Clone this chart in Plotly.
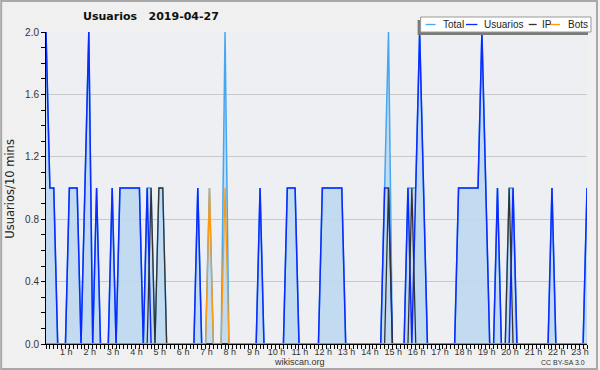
import plotly.graph_objects as go

# 10-minute samples starting at 00:00
usuarios = [
    2, 1, 1, 0, 0, 0, 1, 1, 1, 0, 1, 2,
    0, 1, 0, 0, 0, 1, 0, 1, 1, 1, 1, 1,
    1, 0, 1, 0, 0, 0, 0, 0, 0, 0, 0, 0,
    0, 0, 0, 1, 0, 0, 0, 0, 0, 0, 0, 0,
    0, 0, 0, 0, 0, 0, 0, 1, 0, 0, 0, 0,
    0, 0, 1, 1, 1, 0, 0, 0, 0, 0, 0, 1,
    1, 1, 1, 1, 1, 0, 0, 0, 0, 0, 0, 0,
    0, 0, 0, 1, 1, 0, 0, 0, 0, 1, 0, 1,
    2, 1, 0, 0, 0, 0, 0, 0, 0, 0, 1, 1,
    1, 1, 1, 1, 2, 1, 0, 0, 1, 0, 0, 0,
    1, 0, 0, 0, 0, 0, 0, 0, 0, 0, 1, 0,
    0, 0, 0, 0, 0, 0, 0, 1,
]
ip = [
    0, 0, 0, 0, 0, 0, 0, 0, 0, 0, 0, 0,
    0, 0, 0, 0, 0, 0, 0, 0, 0, 0, 0, 0,
    0, 0, 0, 1, 0, 1, 1, 0, 0, 0, 0, 0,
    0, 0, 0, 0, 0, 0, 0, 0, 0, 0, 0, 0,
    0, 0, 0, 0, 0, 0, 0, 0, 0, 0, 0, 0,
    0, 0, 0, 0, 0, 0, 0, 0, 0, 0, 0, 0,
    0, 0, 0, 0, 0, 0, 0, 0, 0, 0, 0, 0,
    0, 0, 0, 0, 1, 0, 0, 0, 0, 0, 1, 0,
    0, 0, 0, 0, 0, 0, 0, 0, 0, 0, 0, 0,
    0, 0, 0, 0, 0, 0, 0, 0, 0, 0, 0, 1,
    0, 0, 0, 0, 0, 0, 0, 0, 0, 0, 0, 0,
    0, 0, 0, 0, 0, 0, 0, 0,
]
bots = [
    0, 0, 0, 0, 0, 0, 0, 0, 0, 0, 0, 0,
    0, 0, 0, 0, 0, 0, 0, 0, 0, 0, 0, 0,
    0, 0, 0, 0, 0, 0, 0, 0, 0, 0, 0, 0,
    0, 0, 0, 0, 0, 0, 1, 0, 0, 0, 1, 0,
    0, 0, 0, 0, 0, 0, 0, 0, 0, 0, 0, 0,
    0, 0, 0, 0, 0, 0, 0, 0, 0, 0, 0, 0,
    0, 0, 0, 0, 0, 0, 0, 0, 0, 0, 0, 0,
    0, 0, 0, 0, 0, 0, 0, 0, 0, 0, 0, 0,
    0, 0, 0, 0, 0, 0, 0, 0, 0, 0, 0, 0,
    0, 0, 0, 0, 0, 0, 0, 0, 0, 0, 0, 0,
    0, 0, 0, 0, 0, 0, 0, 0, 0, 0, 0, 0,
    0, 0, 0, 0, 0, 0, 0, 0,
]
total = [
    2, 1, 1, 0, 0, 0, 1, 1, 1, 0, 1, 2,
    0, 1, 0, 0, 0, 1, 0, 1, 1, 1, 1, 1,
    1, 0, 1, 1, 0, 1, 1, 0, 0, 0, 0, 0,
    0, 0, 0, 1, 0, 0, 1, 0, 0, 0, 2, 0,
    0, 0, 0, 0, 0, 0, 0, 1, 0, 0, 0, 0,
    0, 0, 1, 1, 1, 0, 0, 0, 0, 0, 0, 1,
    1, 1, 1, 1, 1, 0, 0, 0, 0, 0, 0, 0,
    0, 0, 0, 1, 2, 0, 0, 0, 0, 1, 1, 1,
    2, 1, 0, 0, 0, 0, 0, 0, 0, 0, 1, 1,
    1, 1, 1, 1, 2, 1, 0, 0, 1, 0, 0, 1,
    1, 0, 0, 0, 0, 0, 0, 0, 0, 0, 1, 0,
    0, 0, 0, 0, 0, 0, 0, 1,
]
hours = [i / 6 for i in range(len(total))]
hour_ticks = list(range(1, 24))
hour_labels = [f"{h} h" for h in hour_ticks]
y_ticks = [0.0, 0.4, 0.8, 1.2, 1.6, 2.0]
y_labels = ["0.0", "0.4", "0.8", "1.2", "1.6", "2.0"]

TITLE = "Usuarios\u00a0\u00a0\u00a02019-04-27"
YTITLE = "Usuarios/10 mins"

C_TOTAL = "#45a6f2"
C_USR = "#0a2aff"
C_IP = "#333333"
C_BOTS = "#ff9a10"

fig = go.Figure()
fig.add_trace(go.Scatter(x=hours, y=total, mode="lines", name="Total",
                         line=dict(color=C_TOTAL, width=1.5),
                         fill="tozeroy", fillcolor="rgba(190,216,240,0.9)"))
fig.add_trace(go.Scatter(x=hours, y=usuarios, mode="lines", name="Usuarios",
                         line=dict(color=C_USR, width=1.5)))
fig.add_trace(go.Scatter(x=hours, y=ip, mode="lines", name="IP",
                         line=dict(color=C_IP, width=1.3)))
fig.add_trace(go.Scatter(x=hours, y=bots, mode="lines", name="Bots",
                         line=dict(color=C_BOTS, width=1.3)))

L, R, T, B = 46, 11, 32, 26
W, H = 600, 370
PW, PH = W - L - R, H - T - B


def px(x):
    return (x - L) / PW


def py(y):
    return (H - B - y) / PH


shapes = []
annotations = []
# outer border
shapes.append(dict(type="rect", xref="paper", yref="paper",
                   x0=px(1), x1=px(599), y0=py(1), y1=py(369),
                   line=dict(color="#a8a8a8", width=2), fillcolor="rgba(0,0,0,0)",
                   layer="above"))
# legend shadow + box
shapes.append(dict(type="rect", xref="paper", yref="paper",
                   x0=px(419), x1=px(590), y0=py(20), y1=py(35),
                   line=dict(width=0), fillcolor="#7a7a7a", layer="above"))
shapes.append(dict(type="rect", xref="paper", yref="paper",
                   x0=px(422), x1=px(593), y0=py(17), y1=py(32),
                   line=dict(color="#9a9a9a", width=1), fillcolor="white", layer="above"))
leg = [("Total", C_TOTAL, 427, 437, 442.5),
       ("Usuarios", C_USR, 467.5, 479, 484),
       ("IP", C_IP, 530.5, 538.5, 541.5),
       ("Bots", C_BOTS, 550.5, 562, 567.5)]
for name, col, lx0, lx1, tx in leg:
    shapes.append(dict(type="line", xref="paper", yref="paper",
                       x0=px(lx0), x1=px(lx1), y0=py(24.5), y1=py(24.5),
                       line=dict(color=col, width=1.3), layer="above"))
    annotations.append(dict(text=name, xref="paper", yref="paper",
                            x=px(tx), y=py(24.5), xanchor="left", yanchor="middle",
                            showarrow=False,
                            font=dict(family="Liberation Sans", size=10, color="#222")))

annotations.append(dict(text="<b>" + TITLE + "</b>", xref="paper", yref="paper",
                        x=px(151), y=py(16.5), xanchor="center", yanchor="middle",
                        showarrow=False,
                        font=dict(family="DejaVu Sans", size=11, color="#111")))
annotations.append(dict(text=YTITLE, xref="paper", yref="paper",
                        x=px(9.5), y=py(189), xanchor="center", yanchor="middle",
                        textangle=-90, showarrow=False,
                        font=dict(family="DejaVu Sans", size=11.5, color="#222")))
annotations.append(dict(text="wikiscan.org", xref="paper", yref="paper",
                        x=px(300.5), y=py(361.5), xanchor="center", yanchor="middle",
                        showarrow=False,
                        font=dict(family="Liberation Sans", size=9, color="#333")))
annotations.append(dict(text="CC BY-SA 3.0", xref="paper", yref="paper",
                        x=px(589), y=py(362), xanchor="right", yanchor="middle",
                        showarrow=False,
                        font=dict(family="Liberation Sans", size=7, color="#333")))

x_minor = [i / 6 for i in range(0, 141) if i % 6 != 0] + [0]
y_minor = [round(i * 0.1, 1) for i in range(0, 21) if i % 4 != 0]

fig.update_layout(
    width=W, height=H,
    margin=dict(l=L, r=R, t=T, b=B, pad=0),
    paper_bgcolor="#f0f0f0",
    plot_bgcolor="#eeeff2",
    showlegend=False,
    shapes=shapes,
    annotations=annotations,
    font=dict(family="Liberation Sans", size=10, color="#222"),
    xaxis=dict(range=[0, 139 / 6], tickmode="array", tickvals=hour_ticks,
               ticktext=hour_labels, ticks="outside", ticklen=4, tickcolor="black",
               tickwidth=1, showline=True, linecolor="black", linewidth=1,
               showgrid=False, zeroline=False, fixedrange=True,
               tickfont=dict(family="Liberation Sans", size=9, color="#333"),
               ticklabelshift=-3, ticklabelstandoff=-5,
               minor=dict(tickmode="array", tickvals=x_minor, ticks="outside",
                          ticklen=4, tickcolor="black", tickwidth=1, showgrid=False)),
    yaxis=dict(range=[0, 2], tickmode="array", tickvals=y_ticks, ticktext=y_labels,
               ticks="outside", ticklen=4, tickcolor="black", tickwidth=1,
               showline=True, linecolor="black", linewidth=1,
               showgrid=True, gridcolor="#c9c9c9", gridwidth=1, zeroline=False,
               tickfont=dict(family="Liberation Sans", size=10, color="#333"),
               minor=dict(tickmode="array", tickvals=y_minor, ticks="outside",
                          ticklen=4, tickcolor="black", tickwidth=1, showgrid=False)),
)

fig.write_html("out.html", config={"displayModeBar": False},
               post_script="document.body.style.margin='0';document.body.style.overflow='hidden';")
